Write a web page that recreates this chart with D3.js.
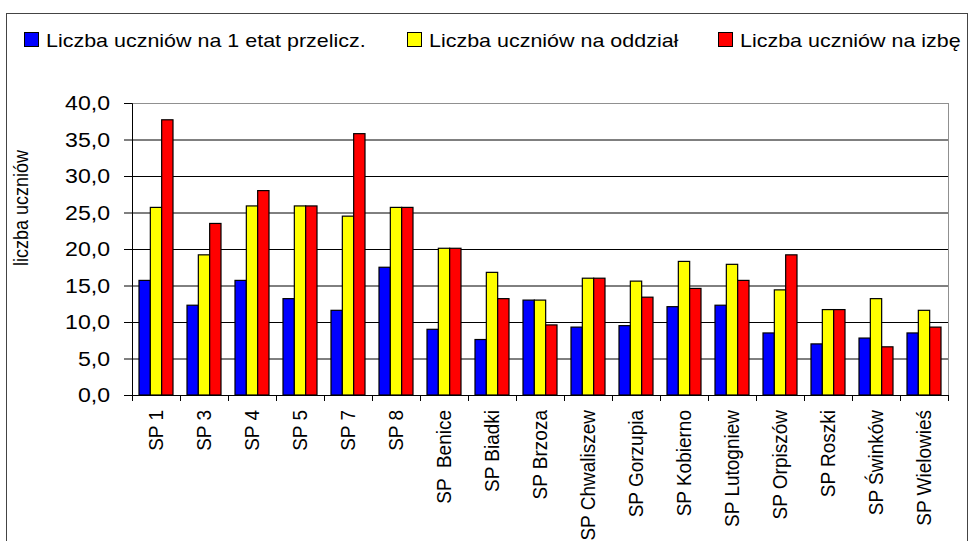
<!DOCTYPE html>
<html>
<head>
<meta charset="utf-8">
<script src="https://cdn.jsdelivr.net/npm/d3@7"></script>
<style>
  body { margin: 0; background: #fff; }
  text { font-family: "Liberation Sans", Arial, sans-serif; fill: #000; }
</style>
</head>
<body>
<svg width="970" height="541"></svg>
<script>
// data
var schools = ["SP 1", "SP 3", "SP 4", "SP 5", "SP 7", "SP 8", "SP  Benice", "SP Biadki", "SP Brzoza",
  "SP Chwaliszew", "SP Gorzupia", "SP Kobierno", "SP Lutogniew", "SP Orpiszów", "SP Roszki",
  "SP Świnków", "SP Wielowieś"];
var perEtat    = [15.7, 12.3, 15.7, 13.2, 11.6, 17.5, 9.0, 7.6, 13.0, 9.3, 9.5, 12.1, 12.3, 8.5, 7.0, 7.8, 8.5];
var perOddzial = [25.7, 19.2, 25.9, 25.9, 24.5, 25.7, 20.1, 16.8, 13.0, 16.0, 15.6, 18.3, 17.9, 14.4, 11.7, 13.2, 11.6];
var perIzba    = [37.7, 23.5, 28.0, 25.9, 35.8, 25.7, 20.1, 13.2, 9.6, 16.0, 13.4, 14.6, 15.7, 19.2, 11.7, 6.6, 9.3];
var seriesNames = ["Liczba uczniów na 1 etat przelicz.", "Liczba uczniów na oddział", "Liczba uczniów na izbę"];
var yTicks = [0, 5, 10, 15, 20, 25, 30, 35, 40];

var colors = ["#0000ff", "#ffff00", "#ff0000"];
var seriesValues = [perEtat, perOddzial, perIzba];

var svg = d3.select("svg");
var plotLeft = 132, plotRight = 948, plotTop = 103, plotBottom = 395;

var x = d3.scaleBand().domain(schools).range([plotLeft, plotRight]);
var xs = d3.scaleBand().domain([0, 1, 2]).range([7, 41]);
var y = d3.scaleLinear().domain([0, 40]).range([plotBottom, plotTop]);
var comma = function (d) { return d3.format(".1f")(d).replace(".", ","); };

// outer frame
svg.append("rect")
  .attr("x", 6.5).attr("y", 13.5)
  .attr("width", 961).attr("height", 600)
  .attr("fill", "none").attr("stroke", "#444");

// gridlines
svg.append("g")
  .attr("transform", "translate(" + plotLeft + ",0)")
  .call(d3.axisLeft(y).tickValues(yTicks).tickSize(-(plotRight - plotLeft)).tickFormat(""))
  .call(function (g) {
    g.select(".domain").remove();
    g.selectAll(".tick line").attr("stroke", "#000");
    g.selectAll(".tick").filter(function (d) { return d === 40; }).select("line").attr("stroke", "#909090");
  });
// right border of plot area
svg.append("line")
  .attr("x1", plotRight + 0.5).attr("x2", plotRight + 0.5)
  .attr("y1", plotTop).attr("y2", plotBottom)
  .attr("stroke", "#909090");

// bars
var groups = svg.append("g").selectAll("g")
  .data(schools)
  .enter().append("g")
  .attr("transform", function (d) { return "translate(" + x(d) + ",0)"; });

groups.selectAll("rect")
  .data(function (d, i) { return seriesValues.map(function (v, s) { return { s: s, v: v[i] }; }); })
  .enter().append("rect")
  .attr("x", function (d) { return xs(d.s); })
  .attr("width", xs.bandwidth())
  .attr("y", function (d) { return y(d.v); })
  .attr("height", function (d) { return plotBottom - y(d.v); })
  .attr("fill", function (d) { return colors[d.s]; })
  .attr("stroke", "#000")
  .attr("stroke-width", 1.2);

// y axis
var sxY = 1.1;
svg.append("g")
  .attr("transform", "translate(" + plotLeft + ",0)")
  .call(d3.axisLeft(y).tickValues(yTicks).tickSize(8).tickPadding(14).tickFormat(comma))
  .call(function (g) {
    g.selectAll("line, path").attr("stroke", "#000");
    g.selectAll("text")
      .attr("font-size", 21)
      .attr("font-family", "Liberation Sans, Arial, sans-serif")
      .attr("x", -22 / sxY)
      .attr("transform", "scale(" + sxY + ",1)");
  });

// x axis: ticks between categories
var xEdge = d3.scaleLinear().domain([0, schools.length]).range([plotLeft, plotRight]);
svg.append("g")
  .attr("transform", "translate(0," + plotBottom + ")")
  .call(d3.axisBottom(xEdge).ticks(schools.length).tickSize(6).tickFormat(""))
  .call(function (g) { g.selectAll("line, path").attr("stroke", "#000"); });

var sxX = 1.1;
svg.append("g").selectAll("text")
  .data(schools)
  .enter().append("text")
  .attr("transform", function (d) {
    return "translate(" + (x(d) + x.bandwidth() / 2 - 1) + ",410) rotate(-90) scale(1," + sxX + ")";
  })
  .attr("dy", "0.36em")
  .attr("text-anchor", "end")
  .attr("font-size", 19)
  .style("white-space", "pre")
  .text(function (d) { return d; });

// y axis title
svg.append("text")
  .attr("transform", "translate(28,208) rotate(-90) scale(1,1.12)")
  .attr("text-anchor", "middle")
  .attr("font-size", 18)
  .text("liczba uczniów");

// legend
var sxL = 1.13;
var legendX = [24, 407, 718];
var legend = svg.append("g").selectAll("g")
  .data(seriesNames)
  .enter().append("g")
  .attr("transform", function (d, i) { return "translate(" + legendX[i] + ",32)"; });
legend.append("rect")
  .attr("x", 0.5).attr("y", 0.5)
  .attr("width", 14).attr("height", 14)
  .attr("fill", function (d, i) { return colors[i]; })
  .attr("stroke", "#000");
legend.append("text")
  .attr("transform", "translate(22,14.7) scale(" + sxL + ",1)")
  .attr("font-size", 19)
  .text(function (d) { return d; });
</script>
</body>
</html>
